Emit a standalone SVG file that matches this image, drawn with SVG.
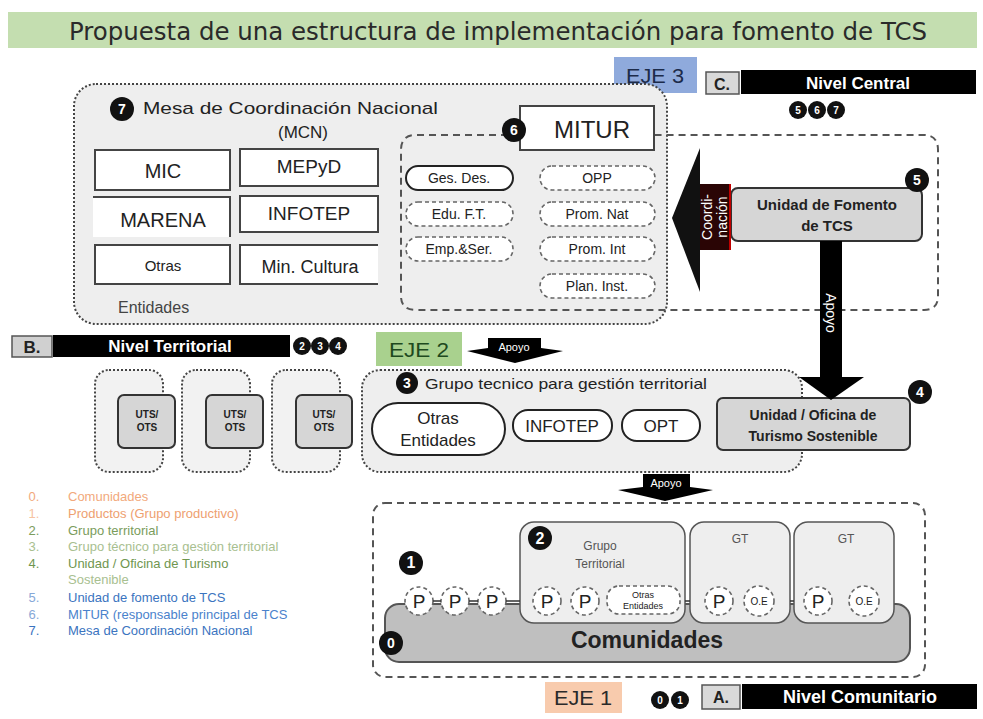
<svg xmlns="http://www.w3.org/2000/svg" width="983" height="719" viewBox="0 0 983 719">
<style>
text{font-family:"Liberation Sans",Arial,sans-serif;fill:#222}
.b{font-weight:bold}
.w{fill:#fff}
.mid{text-anchor:middle}
.eje{font-family:"Liberation Sans",Arial,sans-serif;font-size:21px;text-anchor:middle}
.dot{fill:#eeeeee;stroke:#444;stroke-width:2;stroke-dasharray:2 2}
.dash{fill:none;stroke:#555;stroke-width:2;stroke-dasharray:7 5}
.box{fill:#fff;stroke:#444;stroke-width:2}
.gbox{fill:#d6d6d6;stroke:#333;stroke-width:2}
.pill{fill:#fff;stroke:#666;stroke-width:1.6;stroke-dasharray:4 3}
.spill{fill:#fff;stroke:#222;stroke-width:2}
.badge{fill:#111}
.bt{fill:#fff;font-weight:bold;font-size:14px;text-anchor:middle}
.sb{fill:#fff;font-weight:bold;font-size:10px;text-anchor:middle}
.lg{font-size:13px}
</style>

<g id="title">
<rect x="8" y="12" width="969" height="36" fill="#c4deb0"/>
<text x="498" y="40" class="mid" style="font-family:'DejaVu Sans',Verdana,sans-serif;font-size:25px;fill:#2a2a2a" textLength="858" lengthAdjust="spacingAndGlyphs">Propuesta de una estructura de implementación para fomento de TCS</text>
</g>

<g id="nivel-central">
<rect x="614" y="57" width="83" height="36" fill="#8faadc"/>
<text x="655" y="83" class="eje" style="fill:#1c2b4a" textLength="58" lengthAdjust="spacingAndGlyphs">EJE 3</text>
<rect x="706" y="72" width="33" height="22" fill="#d9d9d9" stroke="#555" stroke-width="1.5"/>
<text x="722" y="90" class="mid b" style="font-size:16px">C.</text>
<rect x="741" y="70" width="235" height="24" fill="#000"/>
<text x="858" y="89" class="mid b w" style="font-size:17px">Nivel Central</text>
<circle cx="798" cy="110" r="9" class="badge"/><text x="798" y="114" class="sb">5</text>
<circle cx="817" cy="110" r="9" class="badge"/><text x="817" y="114" class="sb">6</text>
<circle cx="836" cy="110" r="9" class="badge"/><text x="836" y="114" class="sb">7</text>
</g>

<g id="mcn">
<rect x="74" y="84" width="593" height="240" rx="22" class="dot"/>
<circle cx="122" cy="109" r="12" class="badge"/><text x="122" y="114" class="bt">7</text>
<text x="143" y="114" style="font-size:17px" textLength="295" lengthAdjust="spacingAndGlyphs">Mesa de Coordinación Nacional</text>
<text x="303" y="138" class="mid" style="font-size:17px">(MCN)</text>
<rect x="95" y="150" width="135" height="40" class="box"/>
<text x="163" y="178" class="mid" style="font-size:20px">MIC</text>
<rect x="240" y="149" width="138" height="37" class="box"/>
<text x="309" y="173" class="mid" style="font-size:19px">MEPyD</text>
<path d="M93 197 H230 V237" fill="none" stroke="#444" stroke-width="2"/>
<rect x="93" y="198" width="136" height="39" fill="#fff"/>
<text x="163" y="227" class="mid" style="font-size:20px">MARENA</text>
<rect x="240" y="196" width="138" height="36" class="box"/>
<text x="309" y="220" class="mid" style="font-size:19px">INFOTEP</text>
<rect x="95" y="245" width="135" height="39" class="box"/>
<text x="163" y="271" class="mid" style="font-size:15px">Otras</text>
<path d="M378 245 H240 V284 H378" fill="#fff" stroke="#444" stroke-width="2"/>
<text x="310" y="273" class="mid" style="font-size:18px">Min. Cultura</text>
<text x="118" y="313" style="font-size:16px;fill:#444">Entidades</text>
</g>

<g id="mitur">
<path d="M520 135 H416 Q401 135 401 150 V296 Q401 310 416 310 H924 Q938 310 938 296 V150 Q938 135 924 135 H654" class="dash"/>
<rect x="520" y="106" width="134" height="44" class="box"/>
<circle cx="514" cy="130" r="12" class="badge"/><text x="514" y="135" class="bt">6</text>
<text x="592" y="138" class="mid" style="font-size:24px">MITUR</text>
<rect x="406" y="166" width="107" height="24" rx="12" class="spill"/>
<text x="459" y="183" class="mid" style="font-size:14px">Ges. Des.</text>
<rect x="540" y="166" width="115" height="24" rx="12" class="pill"/>
<text x="597" y="183" class="mid" style="font-size:14px">OPP</text>
<rect x="406" y="202" width="107" height="24" rx="12" class="pill"/>
<text x="459" y="219" class="mid" style="font-size:14px">Edu. F.T.</text>
<rect x="540" y="202" width="115" height="24" rx="12" class="pill"/>
<text x="597" y="219" class="mid" style="font-size:14px">Prom. Nat</text>
<rect x="406" y="237" width="107" height="24" rx="12" class="pill"/>
<text x="459" y="254" class="mid" style="font-size:14px">Emp.&amp;Ser.</text>
<rect x="540" y="237" width="115" height="24" rx="12" class="pill"/>
<text x="597" y="254" class="mid" style="font-size:14px">Prom. Int</text>
<rect x="540" y="274" width="115" height="24" rx="12" class="pill"/>
<text x="597" y="291" class="mid" style="font-size:14px">Plan. Inst.</text>
</g>

<g id="unidad-fomento">
<rect x="731" y="188" width="191" height="53" rx="7" class="gbox"/>
<text x="827" y="210" class="mid b" style="font-size:15px">Unidad de Fomento</text>
<text x="827" y="231" class="mid b" style="font-size:15px">de TCS</text>
<circle cx="917" cy="180" r="12" class="badge"/><text x="917" y="185" class="bt">5</text>
</g>

<g id="nivel-territorial">
<rect x="12" y="336" width="40" height="21" fill="#d0d0d0" stroke="#555" stroke-width="1.5"/>
<text x="32" y="353" class="mid b" style="font-size:17px">B.</text>
<rect x="53" y="335" width="237" height="22" fill="#000"/>
<text x="170" y="352" class="mid b w" style="font-size:17px">Nivel Territorial</text>
<circle cx="302" cy="346" r="9" class="badge"/><text x="302" y="350" class="sb">2</text>
<circle cx="320" cy="346" r="9" class="badge"/><text x="320" y="350" class="sb">3</text>
<circle cx="338" cy="346" r="9" class="badge"/><text x="338" y="350" class="sb">4</text>
<rect x="376" y="332" width="86" height="34" fill="#a9d18e"/>
<text x="419" y="357" class="eje" style="fill:#1e4a1e" textLength="60" lengthAdjust="spacingAndGlyphs">EJE 2</text>
</g>

<g id="uts-1">
<rect x="95" y="370" width="68" height="102" rx="14" class="dot" style="fill:#f2f2f2"/>
<rect x="118" y="395" width="57" height="53" rx="6" class="gbox"/>
<text x="147" y="418" class="mid b" style="font-size:10px">UTS/</text>
<text x="147" y="431" class="mid b" style="font-size:10px">OTS</text>
</g>
<g id="uts-2">
<rect x="182" y="370" width="68" height="102" rx="14" class="dot" style="fill:#f2f2f2"/>
<rect x="206" y="395" width="57" height="53" rx="6" class="gbox"/>
<text x="235" y="418" class="mid b" style="font-size:10px">UTS/</text>
<text x="235" y="431" class="mid b" style="font-size:10px">OTS</text>
</g>
<g id="uts-3">
<rect x="272" y="370" width="68" height="102" rx="14" class="dot" style="fill:#f2f2f2"/>
<rect x="296" y="395" width="56" height="53" rx="6" class="gbox"/>
<text x="324" y="418" class="mid b" style="font-size:10px">UTS/</text>
<text x="324" y="431" class="mid b" style="font-size:10px">OTS</text>
</g>

<g id="grupo-tecnico">
<rect x="362" y="370" width="440" height="102" rx="18" class="dot"/>
<circle cx="407" cy="383" r="11" class="badge"/><text x="407" y="388" class="bt">3</text>
<text x="425" y="389" style="font-size:15px" textLength="282" lengthAdjust="spacingAndGlyphs">Grupo tecnico para gestión territorial</text>
<rect x="372" y="403" width="133" height="52" rx="26" class="spill"/>
<text x="438" y="424" class="mid" style="font-size:17px">Otras</text>
<text x="438" y="446" class="mid" style="font-size:17px">Entidades</text>
<rect x="513" y="410" width="99" height="31" rx="15" class="spill"/>
<text x="562" y="432" class="mid" style="font-size:17px">INFOTEP</text>
<rect x="622" y="410" width="78" height="31" rx="15" class="spill"/>
<text x="661" y="432" class="mid" style="font-size:17px">OPT</text>
</g>

<g id="unidad-oficina">
<rect x="717" y="398" width="193" height="52" rx="6" class="gbox"/>
<text x="813" y="420" class="mid b" style="font-size:14px">Unidad / Oficina de</text>
<text x="813" y="441" class="mid b" style="font-size:14px">Turismo Sostenible</text>
<circle cx="920" cy="392" r="12" class="badge"/><text x="920" y="397" class="bt">4</text>
</g>

<g id="leyenda">
<text x="34" y="501" class="lg mid" style="fill:#f2a97c">0.</text><text x="68" y="501" class="lg" style="fill:#f2a97c">Comunidades</text>
<text x="34" y="518" class="lg mid" style="fill:#f6c3a2">1.</text><text x="68" y="518" class="lg" style="fill:#eea070">Productos (Grupo productivo)</text>
<text x="34" y="535" class="lg mid" style="fill:#7a9c5c">2.</text><text x="68" y="535" class="lg" style="fill:#7a9c5c">Grupo territorial</text>
<text x="34" y="551" class="lg mid" style="fill:#a8c090">3.</text><text x="68" y="551" class="lg" style="fill:#a8c090">Grupo técnico para gestión territorial</text>
<text x="34" y="568" class="lg mid" style="fill:#6f9650">4.</text><text x="68" y="568" class="lg" style="fill:#6f9650">Unidad / Oficina de Turismo</text>
<text x="68" y="584" class="lg" style="fill:#a8c090">Sostenible</text>
<text x="34" y="602" class="lg mid" style="fill:#86a8d8">5.</text><text x="68" y="602" class="lg" style="fill:#3b74c0">Unidad de fomento de TCS</text>
<text x="34" y="619" class="lg mid" style="fill:#86a8d8">6.</text><text x="68" y="619" class="lg" style="fill:#4a82cc">MITUR (responsable principal de TCS</text>
<text x="34" y="635" class="lg mid" style="fill:#3b74c0">7.</text><text x="68" y="635" class="lg" style="fill:#3b74c0">Mesa de Coordinación Nacional</text>
</g>

<g id="comunidades">
<rect x="373" y="503" width="552" height="174" rx="12" class="dash"/>
<rect x="385" y="604" width="525" height="58" rx="14" fill="#bfbfbf" stroke="#555" stroke-width="2"/>
<text x="647" y="648" class="mid b" style="font-size:23px">Comunidades</text>
<circle cx="391" cy="643" r="12" class="badge"/><text x="391" y="648" class="bt">0</text>
</g>

<g id="grupo-territorial">
<rect x="520" y="522" width="165" height="101" rx="14" fill="#eeeeee" stroke="#555" stroke-width="1.5"/>
<circle cx="540" cy="538" r="12" class="badge"/><text x="540" y="544" class="bt" style="font-size:16px">2</text>
<text x="600" y="550" class="mid" style="font-size:12px;fill:#555">Grupo</text>
<text x="600" y="568" class="mid" style="font-size:12px;fill:#555">Territorial</text>
</g>
<g id="gt-1">
<rect x="690" y="522" width="100" height="101" rx="14" fill="#eeeeee" stroke="#555" stroke-width="1.5"/>
<text x="740" y="543" class="mid" style="font-size:12px;fill:#555">GT</text>
</g>
<g id="gt-2">
<rect x="794" y="522" width="100" height="101" rx="14" fill="#eeeeee" stroke="#555" stroke-width="1.5"/>
<text x="846" y="543" class="mid" style="font-size:12px;fill:#555">GT</text>
</g>

<g id="productores">
<circle cx="411" cy="563" r="12" class="badge"/><text x="411" y="568" class="bt" style="font-size:16px">1</text>
<circle cx="419" cy="601" r="14" class="pill"/><text x="419" y="608" class="mid" style="font-size:19px">P</text>
<circle cx="455" cy="601" r="14" class="pill"/><text x="455" y="608" class="mid" style="font-size:19px">P</text>
<circle cx="492" cy="601" r="14" class="pill"/><text x="492" y="608" class="mid" style="font-size:19px">P</text>
<circle cx="547" cy="601" r="14" class="pill"/><text x="547" y="608" class="mid" style="font-size:19px">P</text>
<circle cx="585" cy="601" r="14" class="pill"/><text x="585" y="608" class="mid" style="font-size:19px">P</text>
<rect x="607" y="586" width="73" height="28" rx="12" class="pill"/>
<text x="643" y="598" class="mid" style="font-size:9px">Otras</text>
<text x="643" y="609" class="mid" style="font-size:9px">Entidades</text>
<circle cx="719" cy="601" r="14" class="pill"/><text x="719" y="608" class="mid" style="font-size:19px">P</text>
<circle cx="759" cy="601" r="15" class="pill"/><text x="759" y="605" class="mid" style="font-size:10px">O.E</text>
<circle cx="818" cy="601" r="14" class="pill"/><text x="818" y="608" class="mid" style="font-size:19px">P</text>
<circle cx="864" cy="601" r="15" class="pill"/><text x="864" y="605" class="mid" style="font-size:10px">O.E</text>
</g>

<g id="nivel-comunitario">
<rect x="545" y="682" width="77" height="31" fill="#f8cbad"/>
<text x="583" y="705" class="eje" style="fill:#2a2a2a" textLength="58" lengthAdjust="spacingAndGlyphs">EJE 1</text>
<circle cx="660" cy="700" r="9" class="badge"/><text x="660" y="704" class="sb">0</text>
<circle cx="680" cy="700" r="9" class="badge"/><text x="680" y="704" class="sb">1</text>
<rect x="702" y="685" width="38" height="24" fill="#d9d9d9" stroke="#555" stroke-width="1.5"/>
<text x="721" y="703" class="mid b" style="font-size:16px">A.</text>
<rect x="742" y="684" width="235" height="25" fill="#000"/>
<text x="860" y="703" class="mid b w" style="font-size:18px">Nivel Comunitario</text>
</g>

<g id="connectors">
<path d="M433 601 H441 M469 601 H478 M506 601 H520 M685 601 H690 M790 601 H794" stroke="#333" stroke-width="1.5"/>
<polygon points="672,218 700,148 700,292" fill="#111"/>
<rect x="700" y="184" width="31" height="66" fill="#2a0505"/>
<rect x="729" y="184" width="2" height="66" fill="#c00000"/>
<text transform="translate(712 217) rotate(-90)" class="mid w" style="font-size:14px">Coordi-</text>
<text transform="translate(727 217) rotate(-90)" class="mid w" style="font-size:14px">nación</text>
<rect x="820" y="241" width="22" height="138" fill="#000"/>
<polygon points="799,377 864,377 831,400" fill="#000"/>
<text transform="translate(826 313) rotate(90)" class="mid w" style="font-size:14px">Apoyo</text>
<polygon points="467,351 488,348 488,338 541,338 541,348 563,351 515,363" fill="#000"/>
<text x="514" y="351" class="mid w" style="font-size:11px">Apoyo</text>
<polygon points="618,490 643,487 643,474 690,474 690,487 713,490 665,501" fill="#000"/>
<text x="666" y="487" class="mid w" style="font-size:11px">Apoyo</text>
</g>
</svg>
